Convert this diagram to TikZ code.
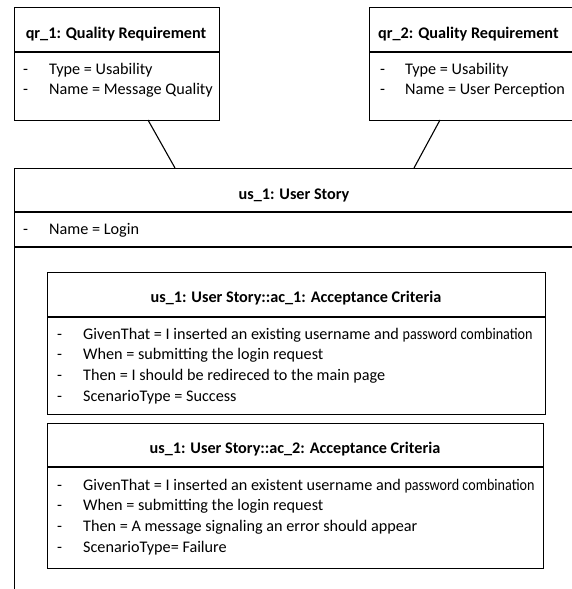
\documentclass[tikz,border=0pt]{standalone}
\usepackage{fontspec}
\usepackage{graphicx}
\setmainfont{Carlito}
\tikzset{
  umlbox/.style={draw, line width=1.1pt, rectangle, inner sep=0pt, anchor=north west},
  divider/.style={line width=1.1pt},
  link/.style={line width=1.1pt},
  txt/.style={inner sep=0pt, anchor=base west, font=\fontsize{16.2}{19.5}\selectfont},
  ttl/.style={inner sep=0pt, anchor=base, font=\fontsize{16.2}{19.5}\selectfont\bfseries},
}
\newcommand{\pwc}{\resizebox{130pt}{\height}{password combination}}
\begin{document}
\begin{tikzpicture}[x=1pt,y=-1pt]
\useasboundingbox (0,0) rectangle (572,589);
\fill[white] (0,0) rectangle (572,589);
\clip (0,0) rectangle (572,589);

% qr_1
\node[umlbox, minimum width=205pt, minimum height=113pt] (qr1) at (14,7) {};
\draw[divider] (14,52) -- (219,52);
\node[ttl] (qr1t) at (116,38) {qr\_1: Quality Requirement};
\node[txt] (qr1d1) at (23,74) {-};
\node[txt] (qr1a1) at (49,74) {Type = Usability};
\node[txt] (qr1d2) at (23,94) {-};
\node[txt] (qr1a2) at (49,94) {Name = Message Quality};

% qr_2
\node[umlbox, minimum width=220pt, minimum height=113pt] (qr2) at (369,7) {};
\draw[divider] (369,52) -- (590,52);
\node[txt, font=\fontsize{16.2}{19.5}\selectfont\bfseries] (qr2t) at (378,38) {qr\_2: Quality Requirement};
\node[txt] (qr2d1) at (380,74) {-};
\node[txt] (qr2a1) at (405,74) {Type = Usability};
\node[txt] (qr2d2) at (380,94) {-};
\node[txt] (qr2a2) at (405,94) {Name = User Perception};

% us_1
\node[umlbox, minimum width=600pt, minimum height=460pt] (us1) at (14,168) {};
\draw[divider] (14,212) -- (620,212);
\draw[divider] (14,247) -- (620,247);
\node[ttl] (us1t) at (294,199) {us\_1: User Story};
\node[txt] (us1d1) at (23,234) {-};
\node[txt] (us1a1) at (49,234) {Name = Login};

% connectors
\coordinate (q1end) at (148,120);
\coordinate (u1a) at (175,168);
\coordinate (q2end) at (440,120);
\coordinate (u1b) at (414,168);
\draw[link] (q1end) -- (u1a);
\draw[link] (q2end) -- (u1b);

% ac_1
\node[umlbox, minimum width=498pt, minimum height=142pt] (ac1) at (47,272) {};
\draw[divider] (47,317) -- (545,317);
\node[ttl] (ac1t) at (296,302) {us\_1: User Story::ac\_1: Acceptance Criteria};
\node[txt] (ac1d1) at (57,339) {-};
\node[txt] (ac1a1) at (83,339) {GivenThat = I inserted an existing username and \pwc};
\node[txt] (ac1d2) at (57,359) {-};
\node[txt] (ac1a2) at (83,359) {When = submitting the login request};
\node[txt] (ac1d3) at (57,380) {-};
\node[txt] (ac1a3) at (83,380) {Then = I should be redireced to the main page};
\node[txt] (ac1d4) at (57,401) {-};
\node[txt] (ac1a4) at (83,401) {ScenarioType = Success};

% ac_2
\node[umlbox, minimum width=496pt, minimum height=145pt] (ac2) at (47,423) {};
\draw[divider] (47,467) -- (543,467);
\node[ttl] (ac2t) at (295,453) {us\_1: User Story::ac\_2: Acceptance Criteria};
\node[txt] (ac2d1) at (57,490) {-};
\node[txt] (ac2a1) at (83,490) {GivenThat = I inserted an existent username and \pwc};
\node[txt] (ac2d2) at (57,510) {-};
\node[txt] (ac2a2) at (83,510) {When = submitting the login request};
\node[txt] (ac2d3) at (57,531) {-};
\node[txt] (ac2a3) at (83,531) {Then = A message signaling an error should appear};
\node[txt] (ac2d4) at (57,552) {-};
\node[txt] (ac2a4) at (83,552) {ScenarioType= Failure};
\end{tikzpicture}
\end{document}
